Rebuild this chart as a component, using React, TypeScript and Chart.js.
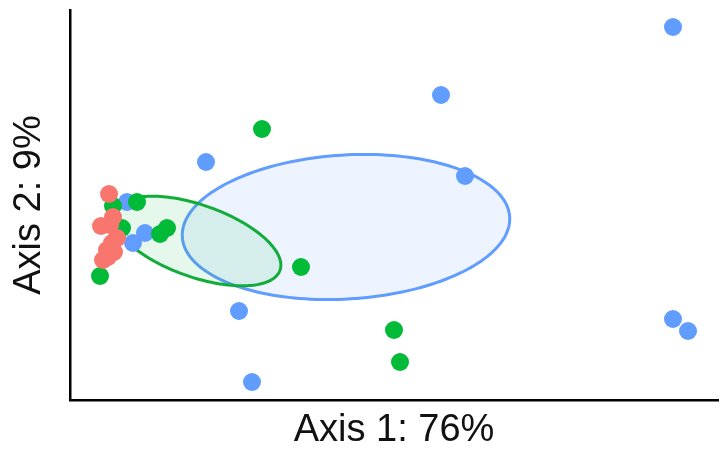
import React, { useEffect, useRef } from "react";
import { Chart, registerables } from "chart.js";

Chart.register(...registerables);

// Ordination scores (arbitrary axis units)
const redX = [39, 43, 31, 40, 47, 42, 37, 44, 33, 38];
const redY = [206, 183, 174, 175, 162, 157, 150, 148, 140, 143];

const greenX = [43, 67, 52, 97, 90, 30, 192, 231, 324, 330];
const greenY = [194, 198, 172, 172, 166, 124, 271, 133, 70, 38];

const blueX = [57, 75, 63, 136, 169, 182, 371, 395, 603, 603, 618];
const blueY = [198, 167, 157, 238, 89, 18, 305, 224, 373, 81, 69];

const groupNames = ["Group A", "Group B", "Group C"];
const groupColors = ["#F8766D", "#00BA38", "#619CFF"];

// Confidence ellipses: [centerX, centerY, semiMajor, semiMinor, angleDeg]
const blueEllipse = [276, 173, 164, 72, 3.5];
const greenEllipse = [127, 159, 88, 36, -19.4];

const xLabel = "Axis 1: 76%";
const yLabel = "Axis 2: 9%";

function toPoints(xs: number[], ys: number[]) {
  return xs.map((x, i) => ({ x, y: ys[i] }));
}

const ellipsePlugin = {
  id: "ellipses",
  beforeDatasetsDraw(chart: any) {
    const { ctx, scales } = chart;
    const xs = scales.x;
    const ys = scales.y;
    const draw = (e: number[], color: string, fill: string) => {
      const [cx, cy, a, b, deg] = e;
      const t = (deg * Math.PI) / 180;
      ctx.save();
      ctx.beginPath();
      const n = 180;
      for (let i = 0; i <= n; i++) {
        const p = (i / n) * Math.PI * 2;
        const dx = a * Math.cos(p);
        const dy = b * Math.sin(p);
        const vx = cx + dx * Math.cos(t) - dy * Math.sin(t);
        const vy = cy + dx * Math.sin(t) + dy * Math.cos(t);
        const px = xs.getPixelForValue(vx);
        const py = ys.getPixelForValue(vy);
        if (i === 0) ctx.moveTo(px, py);
        else ctx.lineTo(px, py);
      }
      ctx.closePath();
      ctx.fillStyle = fill;
      ctx.fill();
      ctx.lineWidth = 3;
      ctx.strokeStyle = color;
      ctx.stroke();
      ctx.restore();
    };
    draw(blueEllipse, groupColors[2], "rgba(97,156,255,0.11)");
    draw(greenEllipse, "#13AC3A", "rgba(0,186,56,0.10)");
  },
};

export default function App() {
  const ref = useRef<HTMLCanvasElement>(null);
  useEffect(() => {
    document.body.style.margin = "0";
    if (!ref.current) return;
    const font = { family: "'Liberation Sans', Arial, sans-serif", size: 38 };
    const chart = new Chart(ref.current, {
      type: "scatter",
      data: {
        datasets: [
          { label: groupNames[0], data: toPoints(redX, redY), backgroundColor: groupColors[0] },
          { label: groupNames[1], data: toPoints(greenX, greenY), backgroundColor: groupColors[1] },
          { label: groupNames[2], data: toPoints(blueX, blueY), backgroundColor: groupColors[2] },
        ].map((d) => ({ ...d, pointRadius: 9, pointBorderWidth: 0, borderWidth: 0 })),
      },
      options: {
        animation: false,
        responsive: false,
        layout: { padding: { top: 10, right: 2, bottom: 0, left: 0 }, autoPadding: false },
        plugins: { legend: { display: false }, tooltip: { enabled: false } },
        scales: {
          x: {
            type: "linear",
            min: 0,
            max: 648,
            ticks: { display: false },
            grid: { display: false, drawTicks: false },
            border: { display: true, color: "#000", width: 2.5 },
            title: {
              display: true,
              text: xLabel,
              color: "#111",
              font,
              padding: { top: 8.2, bottom: 1.2 },
            },
          },
          y: {
            type: "linear",
            min: 0,
            max: 390,
            ticks: { display: false },
            grid: { display: false, drawTicks: false },
            border: { display: true, color: "#000", width: 2.5 },
            title: {
              display: true,
              text: yLabel,
              color: "#111",
              font,
              padding: { top: 7.2, bottom: 17.2 },
            },
          },
        },
      },
      plugins: [ellipsePlugin],
    });
    return () => chart.destroy();
  }, []);
  return (
    <div style={{ position: "absolute", left: 0, top: 0, width: 720, height: 455, background: "#fff" }}>
      <canvas ref={ref} width={720} height={455} />
    </div>
  );
}
